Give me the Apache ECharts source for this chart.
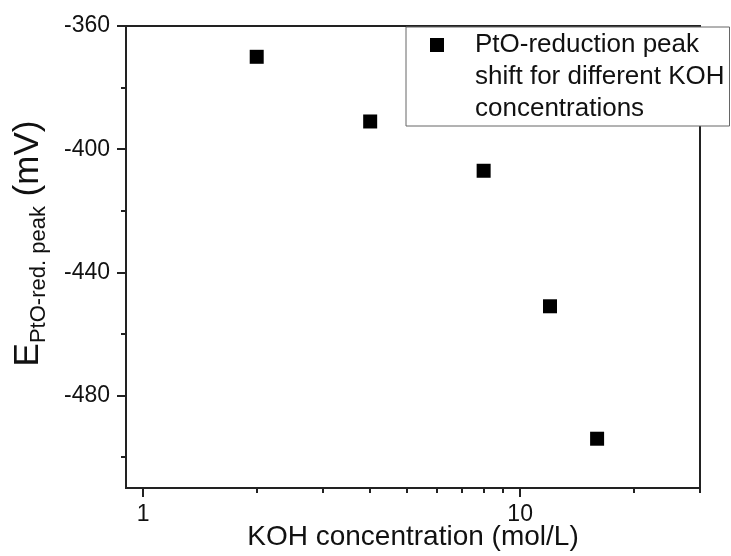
<!DOCTYPE html>
<html>
<head>
<meta charset="utf-8">
<script src="https://cdn.jsdelivr.net/npm/echarts@6/dist/echarts.min.js"></script>
<style>
  html, body { margin: 0; padding: 0; background: #fff; }
  #chart { width: 731px; height: 556px; }
</style>
</head>
<body>
<div id="chart"></div>
<script>
// KOH concentration (mol/L) and PtO-reduction peak potential (mV)
const kohConcentration = [2, 4, 8, 12, 16];
const peakPotential = [-370, -391, -407, -451, -494];

// tick positions
const xMajorTicks = [1, 10];
const xMinorTicks = [2, 3, 4, 5, 6, 7, 8, 9, 20, 30];
const yMajorTicks = [-480, -440, -400, -360];
const yMinorTicks = [-500, -460, -420, -380];

const seriesName = 'PtO-reduction peak\nshift for different KOH\nconcentrations';

const FONT = '"Liberation Sans", Arial, sans-serif';
const INK = '#111';
const AXIS = '#222';

const chart = echarts.init(document.getElementById('chart'), null, { renderer: 'canvas' });

const baseAxisLine = { show: true, lineStyle: { color: AXIS, width: 2 } };

chart.setOption({
  animation: false,
  backgroundColor: '#fff',
  grid: {
    left: 126, right: 31, top: 26, bottom: 68,
    outerBoundsMode: 'none',
    containLabel: false,
    show: true, borderColor: AXIS, borderWidth: 2, backgroundColor: 'transparent'
  },
  legend: {
    data: [{ name: seriesName }],
    left: 406, top: 27,
    padding: [2, 5, 1, 24],
    backgroundColor: '#fff',
    borderColor: '#666', borderWidth: 1, borderRadius: 0,
    itemWidth: 14, itemHeight: 78,
    // square aligned with the first text line
    icon: 'path://M0,0H1V1H0Z M0,5.57H0.001V5.571H0Z',
    itemStyle: { color: '#000', opacity: 1 },
    selectedMode: false,
    textStyle: { fontSize: 26, lineHeight: 32, color: INK, fontFamily: FONT, padding: [0, 0, 0, 26] }
  },
  xAxis: [
    {
      type: 'log', logBase: 10, min: 0.9, max: 30,
      axisLine: baseAxisLine,
      axisTick: { show: true, inside: false, length: 9, customValues: xMajorTicks, lineStyle: { color: AXIS, width: 2 } },
      axisLabel: { customValues: xMajorTicks, fontSize: 23, margin: 15, color: INK, fontFamily: FONT },
      splitLine: { show: false },
      name: 'KOH concentration (mol/L)',
      nameLocation: 'middle', nameGap: 35, nameMoveOverlap: false,
      nameTextStyle: { fontSize: 28, color: INK, fontFamily: FONT }
    },
    {
      type: 'log', logBase: 10, min: 0.9, max: 30, position: 'bottom',
      axisLine: { show: false },
      axisTick: { show: true, inside: false, length: 5, customValues: xMinorTicks, lineStyle: { color: AXIS, width: 2 } },
      axisLabel: { show: false },
      splitLine: { show: false }
    }
  ],
  yAxis: [
    {
      type: 'value', min: -510, max: -360,
      axisLine: baseAxisLine,
      axisTick: { show: true, inside: false, length: 9, customValues: yMajorTicks, lineStyle: { color: AXIS, width: 2 } },
      axisLabel: { customValues: yMajorTicks, fontSize: 23, margin: 16, color: INK, fontFamily: FONT },
      splitLine: { show: false },
      name: '{e|E}{s|PtO-red. peak}{e| (mV)}',
      nameLocation: 'middle', nameRotate: 90, nameGap: 76,
      nameTextStyle: {
        color: INK, fontFamily: FONT, padding: [0, 0, 0, 27],
        rich: {
          e: { fontSize: 35, color: INK, fontFamily: FONT },
          s: { fontSize: 22, color: INK, fontFamily: FONT, padding: [21, 0, 0, 0] }
        }
      }
    },
    {
      type: 'value', min: -510, max: -360, position: 'left',
      axisLine: { show: false },
      axisTick: { show: true, inside: false, length: 5, customValues: yMinorTicks, lineStyle: { color: AXIS, width: 2 } },
      axisLabel: { show: false },
      splitLine: { show: false }
    }
  ],
  series: [
    {
      name: seriesName,
      type: 'scatter',
      xAxisIndex: 0, yAxisIndex: 0,
      symbol: 'rect', symbolSize: 14,
      itemStyle: { color: '#000', opacity: 1 },
      data: kohConcentration.map((c, i) => [c, peakPotential[i]])
    }
  ]
});
</script>
</body>
</html>
